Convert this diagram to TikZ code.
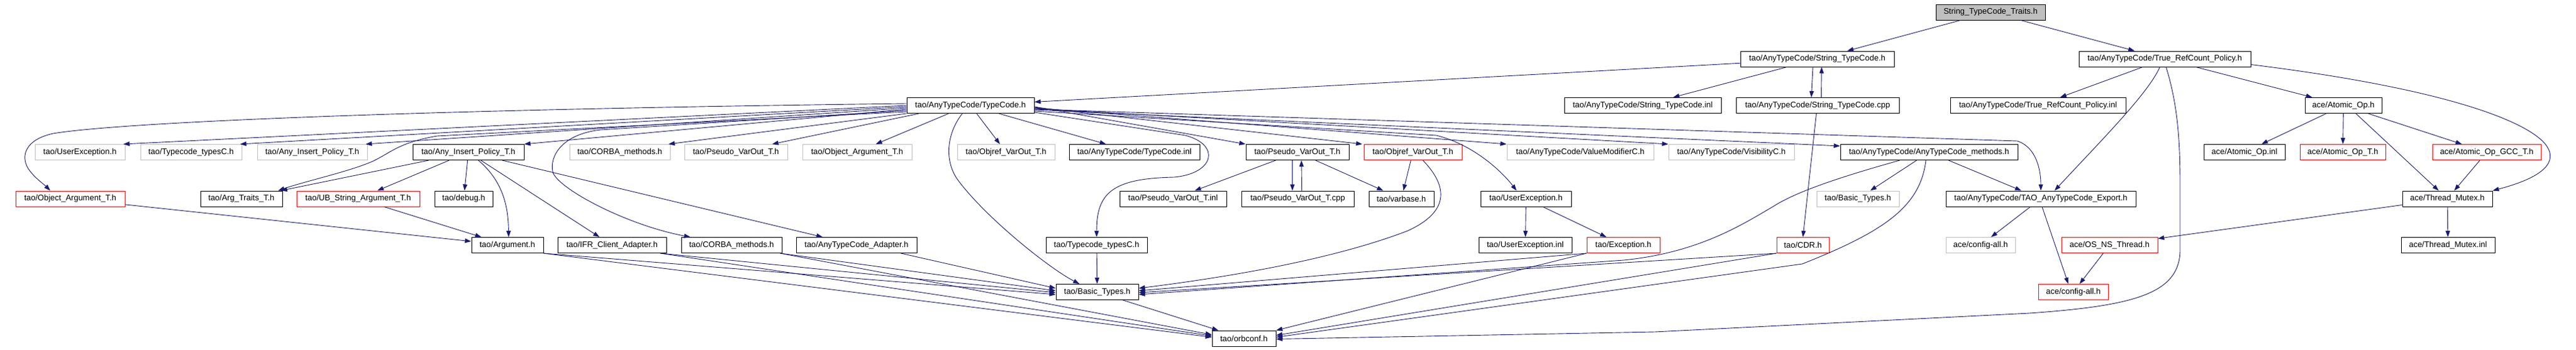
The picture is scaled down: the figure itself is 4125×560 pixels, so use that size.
\documentclass[tikz,border=0pt]{standalone}
\usepackage{fontspec}
\setmainfont{Liberation Sans}
\usetikzlibrary{arrows.meta}
\definecolor{edgeblue}{HTML}{191970}
\definecolor{boxgray}{HTML}{BFBFBF}
\definecolor{boxred}{HTML}{FF0000}
\begin{document}
\begin{tikzpicture}[x=1pt,y=-1pt,
  box/.style={rectangle, minimum height=25pt, inner sep=0pt, line width=1pt, font=\fontsize{13}{15}\selectfont, text=black},
  nb/.style={box, draw=black},
  ng/.style={box, draw=boxgray},
  nr/.style={box, draw=boxred},
  nroot/.style={box, draw=black, fill=boxgray},
  dep/.style={draw=edgeblue, line width=0.9pt, -{Triangle[length=10pt,width=7pt]}},
]
\useasboundingbox[fill=white] (0,0) rectangle (4125,560);

% row 0
\node[nroot, minimum width=175pt] (root) at (3187.5,19.5) {String\_TypeCode\_Traits.h};
% row 1
\node[nb, minimum width=246pt] (stc) at (2910,94.5) {tao/AnyTypeCode/String\_TypeCode.h};
\node[nb, minimum width=275pt] (trp) at (3466.5,94.5) {tao/AnyTypeCode/True\_RefCount\_Policy.h};
% row 2
\node[nb, minimum width=204pt] (tc) at (1554,169) {tao/AnyTypeCode/TypeCode.h};
\node[nb, minimum width=251pt] (stcinl) at (2630.5,169) {tao/AnyTypeCode/String\_TypeCode.inl};
\node[nb, minimum width=261pt] (stccpp) at (2910.5,169) {tao/AnyTypeCode/String\_TypeCode.cpp};
\node[nb, minimum width=281pt] (trpinl) at (3263.5,169) {tao/AnyTypeCode/True\_RefCount\_Policy.inl};
\node[nb, minimum width=123pt] (aop) at (3752.5,169) {ace/Atomic\_Op.h};
% row 3
\node[ng, minimum width=144pt] (ueg) at (128,244) {tao/UserException.h};
\node[ng, minimum width=162pt] (tctg) at (306,244) {tao/Typecode\_typesC.h};
\node[ng, minimum width=176pt] (aipg) at (500,244) {tao/Any\_Insert\_Policy\_T.h};
\node[nb, minimum width=178pt] (aip) at (750,244) {tao/Any\_Insert\_Policy\_T.h};
\node[ng, minimum width=161pt] (cmg) at (992.5,244) {tao/CORBA\_methods.h};
\node[ng, minimum width=165pt] (pvog) at (1178.5,244) {tao/Pseudo\_VarOut\_T.h};
\node[ng, minimum width=175pt] (oag) at (1372.5,244) {tao/Object\_Argument\_T.h};
\node[ng, minimum width=156pt] (ovog) at (1611,244) {tao/Objref\_VarOut\_T.h};
\node[nb, minimum width=209pt] (tcinl) at (1816.5,244) {tao/AnyTypeCode/TypeCode.inl};
\node[nb, minimum width=165pt] (pvo) at (2077.5,244) {tao/Pseudo\_VarOut\_T.h};
\node[nr, minimum width=157pt] (ovo) at (2262.5,244) {tao/Objref\_VarOut\_T.h};
\node[ng, minimum width=235pt] (vmg) at (2530.5,244) {tao/AnyTypeCode/ValueModifierC.h};
\node[ng, minimum width=201pt] (visg) at (2772.5,244) {tao/AnyTypeCode/VisibilityC.h};
\node[nb, minimum width=284pt] (atm) at (3089,244) {tao/AnyTypeCode/AnyTypeCode\_methods.h};
\node[nb, minimum width=130pt] (aopinl) at (3594,244) {ace/Atomic\_Op.inl};
\node[nr, minimum width=137pt] (aopt) at (3751.5,244) {ace/Atomic\_Op\_T.h};
\node[nr, minimum width=174pt] (aopgcc) at (3982,244) {ace/Atomic\_Op\_GCC\_T.h};
% row 4
\node[nr, minimum width=175pt] (oa) at (112.5,318.5) {tao/Object\_Argument\_T.h};
\node[nb, minimum width=131pt] (argtr) at (386.5,318.5) {tao/Arg\_Traits\_T.h};
\node[nr, minimum width=197pt] (ubs) at (573.5,318.5) {tao/UB\_String\_Argument\_T.h};
\node[nb, minimum width=93pt] (dbg) at (742.5,318.5) {tao/debug.h};
\node[nb, minimum width=171pt] (pvoinl) at (1878.5,318.5) {tao/Pseudo\_VarOut\_T.inl};
\node[nb, minimum width=180pt] (pvocpp) at (2078,318.5) {tao/Pseudo\_VarOut\_T.cpp};
\node[nb, minimum width=104pt] (vb) at (2244,318.5) {tao/varbase.h};
\node[nb, minimum width=145pt] (ue) at (2443.5,318.5) {tao/UserException.h};
\node[ng, minimum width=132pt] (btg) at (2975,318.5) {tao/Basic\_Types.h};
\node[nb, minimum width=304pt] (export) at (3268,318.5) {tao/AnyTypeCode/TAO\_AnyTypeCode\_Export.h};
\node[nb, minimum width=144pt] (tm) at (3919,318.5) {ace/Thread\_Mutex.h};
% row 5
\node[nb, minimum width=115pt] (arg) at (812.5,393) {tao/Argument.h};
\node[nb, minimum width=174pt] (ifr) at (980,393) {tao/IFR\_Client\_Adapter.h};
\node[nb, minimum width=161pt] (corba) at (1171.5,393) {tao/CORBA\_methods.h};
\node[nb, minimum width=193pt] (ada) at (1371.5,393) {tao/AnyTypeCode\_Adapter.h};
\node[nb, minimum width=162pt] (tct) at (1756,393) {tao/Typecode\_typesC.h};
\node[nb, minimum width=149pt] (ueinl) at (2442.5,393) {tao/UserException.inl};
\node[nr, minimum width=117pt] (exc) at (2599.5,393) {tao/Exception.h};
\node[nr, minimum width=84pt] (cdr) at (2887,393) {tao/CDR.h};
\node[ng, minimum width=111pt] (cag) at (3171.5,393) {ace/config-all.h};
\node[nr, minimum width=154pt] (osnt) at (3378,393) {ace/OS\_NS\_Thread.h};
\node[nb, minimum width=150pt] (tminl) at (3920,393) {ace/Thread\_Mutex.inl};
% row 6
\node[nb, minimum width=132pt] (bt) at (1757,468) {tao/Basic\_Types.h};
\node[nr, minimum width=112pt] (ca) at (3320,468) {ace/config-all.h};
% row 7
\node[nb, minimum width=102pt] (orb) at (1992,542.5) {tao/orbconf.h};

% ---- edges ----
\draw[dep] (root) -- (stc);
\draw[dep] (root) -- (trp);

\draw[dep] (stc) -- (tc);
\draw[dep] (stc) -- (stcinl);
\draw[dep] ([xshift=-7pt]stc.south) -- ([xshift=-10pt]stccpp.north);
\draw[dep] ([xshift=6pt]stccpp.north) -- ([xshift=7pt]stc.south);
\draw[dep] ([xshift=-2pt]stccpp.south) -- (cdr.north);

\draw[dep] (trp) -- (trpinl);
\draw[dep] (trp) -- (aop);
\draw[dep] ([xshift=-8pt]trp.south) .. controls (3440,150) and (3360,230) .. ([xshift=22pt]export.north);
\draw[dep] ([xshift=2pt]trp.south) .. controls (3488,170) and (3491,230) .. (3491,300) -- (3491,400)
   .. controls (3491,470) and (3420,490) .. (3250,502) -- (2650,532) -- ([yshift=-1pt]orb.east);
\draw[dep] ([yshift=-9pt]trp.east) .. controls (3900,140) and (4040,190) .. (4075,230)
   .. controls (4100,260) and (4070,285) .. (tm.north east);

% TypeCode.h fan
\draw[dep] (tc.west) -- ([xshift=-3pt]ueg.north east);
\draw[dep] ([yshift=-2pt]tc.west) -- ([xshift=-3pt]tctg.north east);
\draw[dep] ([yshift=-4pt]tc.west) -- ([xshift=-3pt]aipg.north east);
\draw[dep] ([yshift=-6pt]tc.west) -- (aip.north east);
\draw[dep] (tc.south west) -- ([xshift=-3pt]cmg.north east);
\draw[dep] ([xshift=20pt]tc.south west) -- ([xshift=-25pt]pvog.north east);
\draw[dep] ([xshift=-35pt]tc.south) -- ([xshift=30pt]oag.north);
\draw[dep] (tc) -- (ovog);
\draw[dep] (tc) -- (tcinl);
\draw[dep] ([yshift=-2pt]tc.east) -- (pvo.north west);
\draw[dep] ([yshift=-3pt]tc.east) -- ([xshift=-2pt]ovo.north west);
\draw[dep] ([yshift=-4pt]tc.east) -- (vmg.north west);
\draw[dep] ([yshift=-5pt]tc.east) -- (visg.north west);
\draw[dep] ([yshift=-7pt]tc.east) -- ([yshift=-3pt]atm.north west);
\draw[dep] ([yshift=-9pt]tc.east) -- (2300,217) .. controls (2360,232) and (2405,275) .. ([xshift=-15pt]ue.north);
\draw[dep] ([yshift=-6pt]tc.east) -- (3230,226) .. controls (3262,236) and (3268,275) .. (export.north);
\draw[dep] ([yshift=-11pt]tc.east) -- (1898,217) .. controls (1955,232) and (1945,278) .. (1880,284)
   .. controls (1780,286) and (1756,310) .. (tct.north);
\draw[dep] ([xshift=-13pt]tc.south) .. controls (1515,215) and (1512,260) .. (1535,290)
   .. controls (1580,350) and (1680,430) .. ([xshift=38pt]bt.north west);
\draw[dep] ([yshift=-8pt]tc.west) -- (962,208) .. controls (900,215) and (880,250) .. (885,275)
   .. controls (890,300) and (1000,360) .. ([xshift=-66pt]corba.north);
\draw[dep] ([yshift=-10pt]tc.west) -- (700,218) .. controls (640,228) and (625,245) .. (598,258)
   .. controls (560,275) and (490,290) .. ([xshift=-7pt]argtr.north east);
\draw[dep] ([yshift=3pt]tc.west) .. controls (700,175) and (200,195) .. (85,214)
   .. controls (40,224) and (33,250) .. (45,270) .. controls (55,285) and (70,295) .. ([xshift=-32pt]oa.north);

% Any_Insert_Policy_T.h
\draw[dep] (aip) -- (argtr);
\draw[dep] (aip) -- (ubs);
\draw[dep] (aip) -- (dbg);
\draw[dep] ([xshift=16pt]aip.south) .. controls (805,290) and (814,330) .. ([xshift=2pt]arg.north);
\draw[dep] (aip) -- (ifr);
\draw[dep] (aip) -- (ada);

\draw[dep] (oa) -- (arg);
\draw[dep] (ubs) -- (arg);

\draw[dep] (arg.south east) -- ([yshift=-4pt]bt.west);
\draw[dep] (arg.south east) -- ([yshift=2pt]orb.west);
\draw[dep] ([xshift=-10pt]ifr.south east) -- ([yshift=-1pt]bt.west);
\draw[dep] ([xshift=-10pt]ifr.south east) -- ([yshift=4pt]orb.west);
\draw[dep] ([xshift=-3pt]corba.south east) -- ([yshift=2pt]bt.west);
\draw[dep] ([xshift=-3pt]corba.south east) -- ([yshift=6pt]orb.west);
\draw[dep] ([xshift=-26pt]ada.south east) -- ([yshift=6pt]bt.west);

\draw[dep] (tct) -- (bt);
\draw[dep] (bt) -- (orb);

% Pseudo_VarOut / Objref_VarOut
\draw[dep] (pvo) -- (pvoinl);
\draw[dep] (pvo) -- (vb);
\draw[dep] ([xshift=-8pt]pvo.south) -- ([xshift=-8.5pt]pvocpp.north);
\draw[dep] ([xshift=6.5pt]pvocpp.north) -- ([xshift=6.5pt]pvo.south);
\draw[dep] (ovo) -- (vb);
\draw[dep] ([xshift=16pt]ovo.south) .. controls (2320,300) and (2320,340) .. (2254,370)
   .. controls (2150,410) and (2000,440) .. ([yshift=6pt]bt.east);

% UserException / Exception / CDR
\draw[dep] (ue) -- (ueinl);
\draw[dep] (ue) -- (exc);
\draw[dep] (exc.south west) -- ([yshift=2pt]bt.east);
\draw[dep] (exc.south west) -- (orb.north east);
\draw[dep] (cdr.south west) -- ([yshift=-1pt]bt.east);
\draw[dep] (cdr.south west) -- ([yshift=5pt]orb.east);

% AnyTypeCode_methods.h
\draw[dep] (atm) -- (btg);
\draw[dep] (atm) -- (export);
\draw[dep] ([xshift=-47pt]atm.south) .. controls (2960,280) and (2880,305) .. (2841,330)
   .. controls (2790,360) and (2720,405) .. (2600,417) -- ([yshift=-4pt]bt.east);
\draw[dep] ([xshift=-5pt]atm.south) .. controls (3075,330) and (3020,370) .. (2886,423) -- ([yshift=2pt]orb.east);

% Export / ace
\draw[dep] (export) -- (cag);
\draw[dep] ([xshift=2pt]export.south) -- ([xshift=-8pt]ca.north);
\draw[dep] (osnt) -- (ca);
\draw[dep] (tm) -- (osnt);
\draw[dep] (tm) -- (tminl);
\draw[dep] (aop) -- (aopinl);
\draw[dep] (aop) -- (aopt);
\draw[dep] ([xshift=20pt]aop.south) -- ([xshift=-14pt]tm.north);
\draw[dep] (aop) -- (aopgcc);
\draw[dep] (aopgcc) -- (tm);
\end{tikzpicture}
\end{document}
